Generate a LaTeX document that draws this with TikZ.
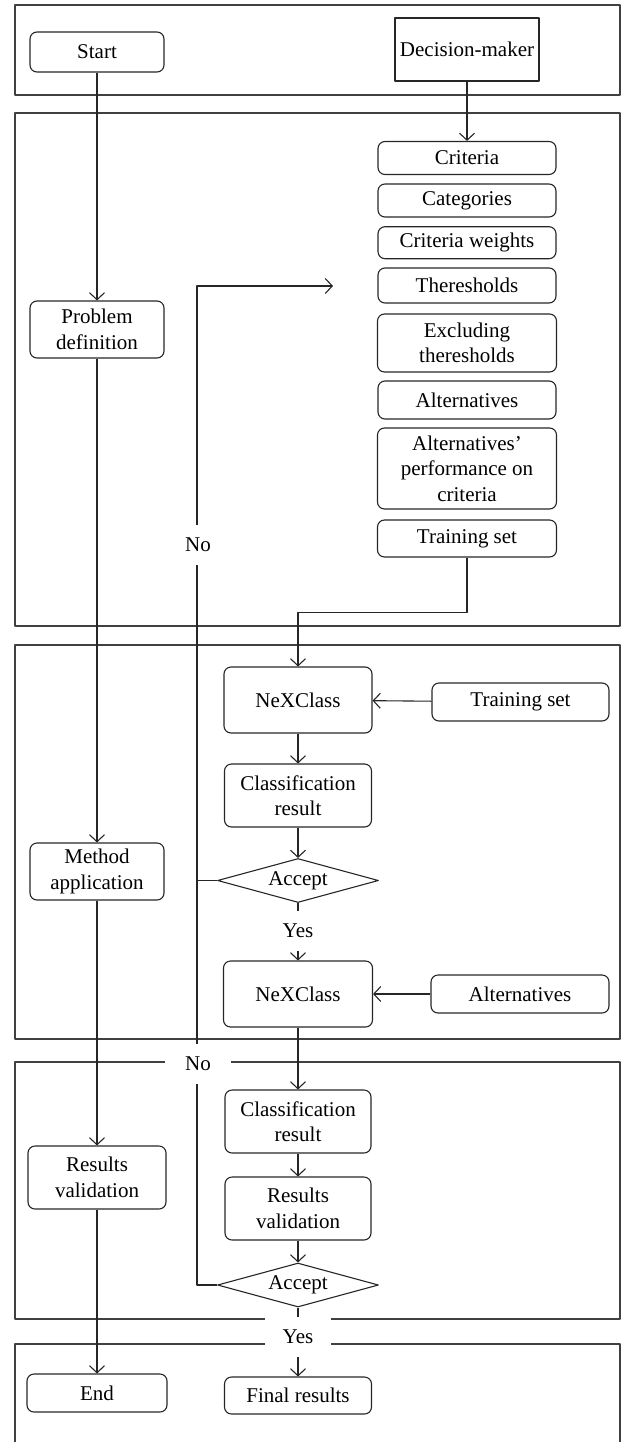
\documentclass[tikz,border=0pt]{standalone}
\usepackage{fontspec}
\setmainfont{Liberation Serif}
\usetikzlibrary{arrows.meta, shapes.geometric}

\begin{document}
\begin{tikzpicture}[x=1pt, y=-1pt, line join=round,
    font=\fontsize{21}{25.5}\selectfont,
    panel/.style={draw=black!75, line width=1.4pt},
    stepbox/.style={draw=black!85, line width=1.1pt, rounded corners=7pt, align=center, inner sep=0pt},
    choice/.style={draw=black!85, line width=1.1pt, diamond, aspect=3.7, inner sep=0pt, minimum width=161pt, minimum height=44pt},
    link/.style={draw=black!85, line width=1.1pt},
    tip/.style={link, -{Straight Barb[length=7pt, width=15pt]}},
    gap/.style={fill=white, inner sep=0pt, minimum width=66pt, minimum height=40pt}]

    \useasboundingbox (0,0) rectangle (621,1442);

    % Stage panels (the last one runs off the page)
    \draw[panel] (15,5) rectangle (620,95);
    \draw[panel] (15,113) rectangle (620,626);
    \draw[panel] (15,645) rectangle (620,1039);
    \draw[panel] (15,1062) rectangle (620,1319);
    \draw[panel] (15,1448) |- (620,1344) -- (620,1448);

    % Left column: main stages
    \node[stepbox, minimum width=134pt, minimum height=40pt] (start) at (97,52) {Start};
    \node[stepbox, minimum width=134pt, minimum height=57pt] (probdef) at (97,329.5) {Problem\\definition};
    \node[stepbox, minimum width=134pt, minimum height=57pt] (method) at (97,871.5) {Method\\application};
    \node[stepbox, minimum width=138pt, minimum height=63pt] (resval) at (97,1177.5) {Results\\validation};
    \node[stepbox, minimum width=140pt, minimum height=38pt] (end) at (97,1393) {End};

    % Right column: problem data
    \node[stepbox, sharp corners, minimum width=144pt, minimum height=63pt] (dm) at (467,49.5) {Decision-maker};
    \node[stepbox, minimum width=178pt, minimum height=33pt] (criteria) at (467,158) {Criteria};
    \node[stepbox, minimum width=178pt, minimum height=33pt] (categ) at (467,200.5) {Categories};
    \node[stepbox, minimum width=178pt, minimum height=32pt] (weights) at (467,242.7) {Criteria weights};
    \node[stepbox, minimum width=178pt, minimum height=35pt] (thresh) at (467,285.5) {Theresholds};
    \node[stepbox, minimum width=179pt, minimum height=58pt] (excl) at (467,343) {Excluding\\theresholds};
    \node[stepbox, minimum width=178pt, minimum height=38pt] (alts) at (467,400) {Alternatives};
    \node[stepbox, minimum width=179pt, minimum height=81pt] (altperf) at (467,468.5) {Alternatives'\\performance on\\criteria};
    \node[stepbox, minimum width=179pt, minimum height=37pt] (trainset) at (467,538.5) {Training set};

    % Middle column: method application
    \node[stepbox, minimum width=148pt, minimum height=66pt] (nex1) at (298,700) {NeXClass};
    \node[stepbox, minimum width=177pt, minimum height=38pt] (tset2) at (520.5,702) {Training set};
    \node[stepbox, minimum width=147pt, minimum height=63pt] (class1) at (298,795.5) {Classification\\result};
    \node[choice] (acc1) at (298,880.5) {Accept};
    \node[stepbox, minimum width=149pt, minimum height=66pt] (nex2) at (298,994) {NeXClass};
    \node[stepbox, minimum width=178pt, minimum height=38pt] (alts2) at (520,994) {Alternatives};

    % Middle column: validation and results
    \node[stepbox, minimum width=146pt, minimum height=63pt] (class2) at (298,1121.5) {Classification\\result};
    \node[stepbox, minimum width=146pt, minimum height=63pt] (resval2) at (298,1208.5) {Results\\validation};
    \node[choice] (acc2) at (298,1285) {Accept};
    \node[stepbox, minimum width=147pt, minimum height=37pt] (final) at (298,1395.5) {Final results};

    % Main flow
    \draw[tip] (start) -- (probdef);
    \draw[tip] (probdef) -- (method);
    \draw[tip] (method) -- (resval);
    \draw[tip] (resval) -- (end);

    % Data flow
    \draw[tip] (dm) -- (criteria);
    \draw[tip] (trainset.south) -- ++(0,55) -| (nex1.north);
    \draw[tip] (tset2) -- (nex1);
    \draw[tip] (nex1) -- (class1);
    \draw[tip] (class1) -- (acc1);
    \draw[tip] (acc1) -- (nex2);
    \draw[tip] (alts2) -- (nex2);
    \draw[tip] (nex2) -- (class2);
    \draw[tip] (class2) -- (resval2);
    \draw[tip] (resval2) -- (acc2);
    \draw[tip] (acc2) -- (final);

    % Rejection loops back to the problem data
    \coordinate (redo) at (333,286);
    \draw[tip] (acc2.west) -- ++(-20,0) |- (redo);
    \draw[link] (acc1.west) -- ++(-20,0);

    % Branch labels
    \node[gap] (no1) at (198,545) {No};
    \node[gap] (no2) at (198,1064) {No};
    \node[gap] (yes1) at (298,931) {Yes};
    \node[gap] (yes2) at (298,1337) {Yes};

\end{tikzpicture}
\end{document}
